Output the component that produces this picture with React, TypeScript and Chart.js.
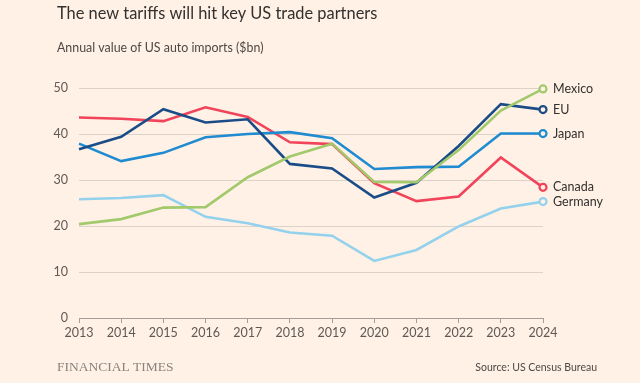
import React, { useEffect, useRef } from "react";
import { Chart, registerables } from "chart.js";

Chart.register(...registerables);

const years = ["2013","2014","2015","2016","2017","2018","2019","2020","2021","2022","2023","2024"];
const mexico = [20.4, 21.5, 24.0, 24.1, 30.6, 35.1, 37.9, 29.6, 29.5, 36.5, 45.1, 49.8];
const eu = [36.7, 39.4, 45.4, 42.5, 43.2, 33.5, 32.5, 26.2, 29.4, 37.4, 46.5, 45.3];
const japan = [37.9, 34.1, 35.9, 39.3, 40.0, 40.4, 39.1, 32.4, 32.8, 32.9, 40.1, 40.1];
const canada = [43.6, 43.3, 42.8, 45.8, 43.7, 38.2, 37.8, 29.3, 25.4, 26.4, 34.9, 28.4];
const germany = [25.8, 26.1, 26.7, 22.0, 20.6, 18.6, 17.9, 12.4, 14.8, 19.9, 23.8, 25.3];
const seriesNames = ["Mexico", "EU", "Japan", "Canada", "Germany"];
const seriesColors = ["#a2c96b", "#1a4d87", "#1f8bd0", "#f1435a", "#94d1ec"];
const yTicks = [0, 10, 20, 30, 40, 50];

const BG = "#fff1e5";
const TEXT = "#33302e";
const FONT = "Lato, sans-serif";

export default function App() {
  const ref = useRef<HTMLCanvasElement>(null);
  useEffect(() => {
    const values = [mexico, eu, japan, canada, germany];
    const decor = {
      id: "decor",
      beforeDraw(chart: any) {
        const c = chart.ctx;
        c.save();
        c.fillStyle = BG;
        c.fillRect(0, 0, chart.width, chart.height);
        c.restore();
      },
      afterDraw(chart: any) {
        const c = chart.ctx;
        c.save();
        c.textBaseline = "middle";
        c.textAlign = "left";
        c.fillStyle = TEXT;
        c.font = `16.4px ${FONT}`;
        c.fillText("The new tariffs will hit key US trade partners", 57, 14);
        c.fillStyle = "#4d4845";
        c.font = `12.4px ${FONT}`;
        c.fillText("Annual value of US auto imports ($bn)", 57, 48);
        c.fillStyle = "#8a837d";
        c.font = `13.5px 'Liberation Serif', serif`;
        c.fillText("FINANCIAL TIMES", 57, 367);
        c.fillStyle = "#4d4845";
        c.font = `10.5px ${FONT}`;
        c.textAlign = "right";
        c.fillText("Source: US Census Bureau", 597, 368);
        // end labels
        c.textAlign = "left";
        c.fillStyle = TEXT;
        c.font = `12.5px ${FONT}`;
        chart.data.datasets.forEach((ds: any, i: number) => {
          const meta = chart.getDatasetMeta(i);
          const pt = meta.data[meta.data.length - 1];
          c.fillText(ds.label, pt.x + 10, pt.y);
        });
        c.restore();
      },
    };
    const chart = new Chart(ref.current!, {
      type: "line",
      data: {
        labels: years,
        datasets: seriesNames.map((name, i) => ({
          label: name,
          data: values[i],
          borderColor: seriesColors[i],
          backgroundColor: BG,
          borderWidth: 2.6,
          tension: 0,
          pointRadius: values[i].map((_, j) => (j === values[i].length - 1 ? 3.5 : 0)),
          pointBorderWidth: 2.2,
          pointBackgroundColor: BG,
          pointBorderColor: seriesColors[i],
          clip: false as any,
        })),
      },
      options: {
        animation: false,
        responsive: false,
        events: [],
        layout: { padding: { top: 88, left: 0, right: 97, bottom: 0 } },
        plugins: { legend: { display: false }, tooltip: { enabled: false }, title: { display: false } },
        scales: {
          x: {
            type: "category",
            offset: false,
            grid: { drawOnChartArea: false, drawTicks: true, tickLength: 5, tickColor: "#a59d96" },
            border: { display: true, color: "#a59d96", width: 1 },
            ticks: { color: "#5f5955", font: { family: FONT, size: 12.5 }, padding: 2, maxRotation: 0, autoSkip: false },
            afterFit: (s: any) => { s.height = 65; },
          },
          y: {
            min: 0,
            max: 50,
            afterBuildTicks: (s: any) => { s.ticks = yTicks.map((v) => ({ value: v })); },
            grid: { color: "#dcd2c8", lineWidth: 1, drawTicks: false },
            border: { display: false },
            ticks: { color: "#5f5955", font: { family: FONT, size: 12.5 }, padding: 11 },
            afterFit: (s: any) => { s.width = 79; },
          },
        },
      },
      plugins: [decor],
    });
    return () => chart.destroy();
  }, []);
  return (
    <div style={{ position: "fixed", left: 0, top: 0, width: 640, height: 383, background: BG }}>
      <canvas ref={ref} width={640} height={383} style={{ width: 640, height: 383 }} />
    </div>
  );
}
